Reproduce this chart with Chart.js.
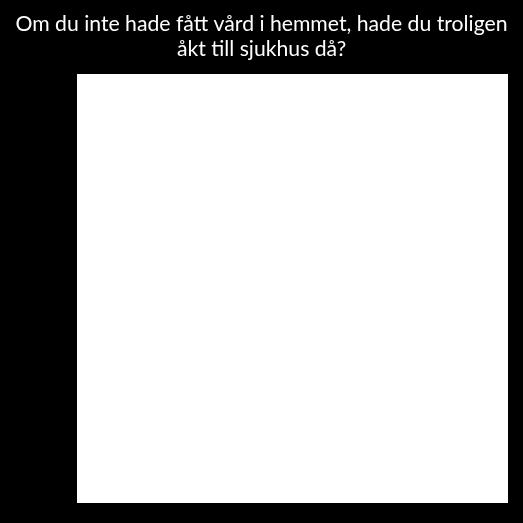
<!DOCTYPE html>
<html>
<head>
<meta charset="utf-8">
<script src="https://cdn.jsdelivr.net/npm/chart.js@4/dist/chart.umd.min.js"></script>
<style>
  html, body { margin: 0; padding: 0; background: #000; }
  #wrap { width: 523px; height: 523px; }
</style>
</head>
<body>
<div id="wrap"><canvas id="grafica"></canvas></div>
<script>
// data: one white column filling the plot to 100%
const kategorier = ["Andel"];
const andelar = [100];
const yTicks = [0, 100];
const titelRader = ["Om du inte hade fått vård i hemmet, hade du troligen", "åkt till sjukhus då?"];

const svartBakgrund = {
    id: 'svartBakgrund',
    beforeDraw(chart) {
        const ctx = chart.ctx;
        ctx.save();
        ctx.fillStyle = "#000";
        ctx.fillRect(0, 0, chart.width, chart.height);
        ctx.restore();
    }
};

const ctx = document.getElementById("grafica").getContext("2d");

new Chart(ctx, {
    type: 'bar',
    data: {
        labels: kategorier,
        datasets: [{
            label: 'Andel',
            data: andelar,
            backgroundColor: '#fff',
            borderWidth: 0,
            barPercentage: 1,
            categoryPercentage: 1
        }]
    },
    options: {
        responsive: true,
        maintainAspectRatio: false,
        animation: false,
        layout: { padding: 0 },
        plugins: {
            legend: { display: false },
            tooltip: { enabled: false },
            title: {
                display: true,
                text: titelRader,
                color: '#fff',
                font: { family: 'Lato', size: 21.2, weight: 'normal', lineHeight: 1.18 },
                padding: { top: 12, bottom: 12 }
            }
        },
        scales: {
            // labels are black on black in the original, so they stay invisible
            x: {
                grid: { display: false },
                border: { display: false },
                ticks: { color: '#000', font: { family: 'Lato', size: 12 } },
                afterFit: s => { s.height = 20; }
            },
            y: {
                min: 0, max: 100,
                grid: { display: false },
                border: { display: false },
                afterBuildTicks: s => { s.ticks = yTicks.map(v => ({ value: v })); },
                ticks: { color: '#000', callback: v => v + '%' },
                afterFit: s => { s.width = 77; }
            },
            hoger: {
                position: 'right',
                display: true,
                grid: { display: false },
                border: { display: false },
                ticks: { display: false },
                afterFit: s => { s.width = 15; }
            }
        }
    },
    plugins: [svartBakgrund]
});
</script>
</body>
</html>
